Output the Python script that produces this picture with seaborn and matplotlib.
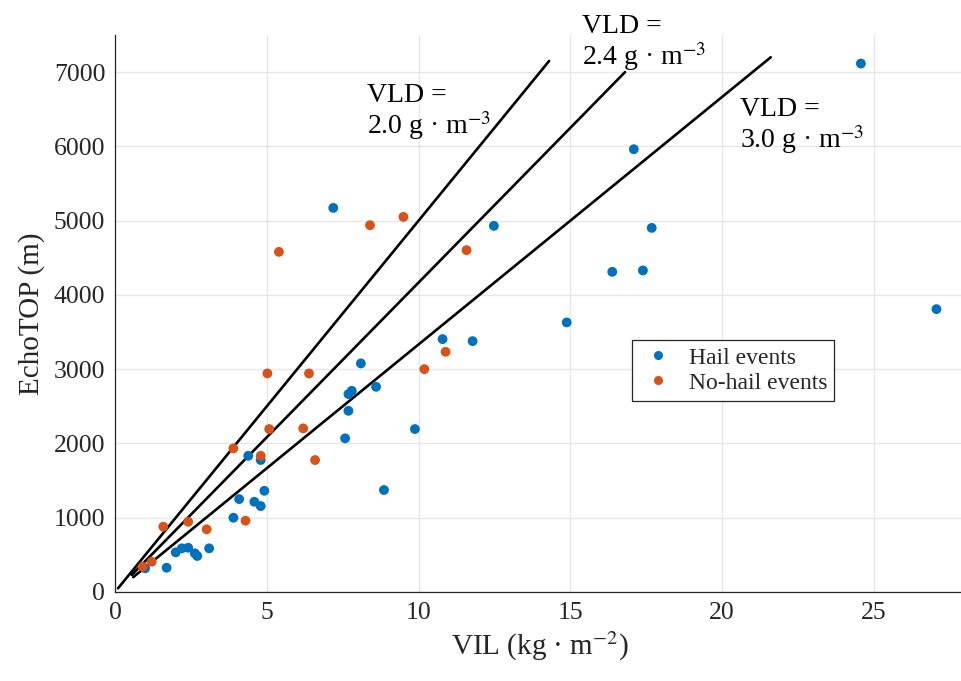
import numpy as np
import pandas as pd
import matplotlib
matplotlib.use("Agg")
import matplotlib.pyplot as plt
from matplotlib.lines import Line2D
import seaborn as sns

# Hail events: VIL (kg/m^2) and echo-top height (m)
hail_vil = [24.57, 17.09, 7.19, 12.48, 17.68, 16.38, 17.39, 27.06, 14.88,
            10.79, 11.78, 8.10, 8.60, 7.80, 7.69, 7.69, 7.58, 9.88, 8.86,
            4.39, 4.80, 4.92, 4.09, 4.59, 4.80, 3.90, 3.10, 2.00, 2.20,
            2.41, 2.63, 2.71, 1.70, 0.99]
hail_et = [7116, 5962, 5172, 4930, 4903, 4311, 4330, 3809, 3630,
           3405, 3378, 3078, 2763, 2709, 2665, 2440, 2069, 2194, 1373,
           1834, 1777, 1363, 1251, 1215, 1157, 1000, 588, 534, 588,
           596, 521, 485, 327, 319]

# No-hail events
nohail_vil = [9.50, 8.40, 5.40, 11.58, 10.89, 10.19, 5.02, 6.39, 5.08, 6.20,
              6.59, 3.90, 4.80, 1.59, 2.41, 3.02, 4.30, 1.21, 0.91]
nohail_et = [5051, 4939, 4580, 4603, 3234, 3001, 2943, 2943, 2194, 2203,
             1777, 1934, 1834, 879, 946, 844, 960, 408, 340]

# Reference VLD lines (g/m^3) and the VIL span each one covers
vld_values = [2.0, 2.4, 3.0]
vld_vil_start = [0.1, 0.55, 0.6]
vld_vil_end = [14.3, 16.8, 21.6]

x_ticks = [0, 5, 10, 15, 20, 25]
y_ticks = [0, 1000, 2000, 3000, 4000, 5000, 6000, 7000]

BLUE = "#0072BD"
ORANGE = "#D95319"
AXIS = "#262626"

sns.set_style("white")
plt.rcParams["font.family"] = ["Liberation Serif", "DejaVu Serif"]
plt.rcParams["mathtext.fontset"] = "stix"

df = pd.concat([
    pd.DataFrame({"VIL": hail_vil, "ET": hail_et, "Event": "Hail events"}),
    pd.DataFrame({"VIL": nohail_vil, "ET": nohail_et, "Event": "No-hail events"}),
], ignore_index=True)

fig = plt.figure(figsize=(9.61, 6.81), dpi=100)
ax = fig.add_axes([115 / 961, 89 / 681, 850 / 961, 557 / 681])

ax.set_axisbelow(True)
ax.grid(True, color="#e6e6e6", linewidth=1.0)

# VLD = VIL / ET  ->  ET = 1000 * VIL / VLD
for vld, v0, v1 in zip(vld_values, vld_vil_start, vld_vil_end):
    vil = np.array([v0, v1])
    line_df = pd.DataFrame({"VIL": vil, "ET": 1000.0 * vil / vld})
    sns.lineplot(data=line_df, x="VIL", y="ET", color="black", linewidth=1.9,
                 ax=ax, legend=False, zorder=2)

sns.scatterplot(data=df, x="VIL", y="ET", hue="Event",
                palette={"Hail events": BLUE, "No-hail events": ORANGE},
                s=50, edgecolor="none", ax=ax, legend=False, zorder=3)

label_kw = dict(fontsize=20, color="black", ha="left", va="top",
                linespacing=1.05, clip_on=False)
ax.text(8.3, 6860, "VLD =\n2.0 g · m$^{-3}$", **label_kw)
ax.text(15.4, 7780, "VLD =\n2.4 g · m$^{-3}$", **label_kw)
ax.text(20.6, 6670, "VLD =\n3.0 g · m$^{-3}$", **label_kw)

ax.set_xlim(0, 28)
ax.set_ylim(0, 7500)
ax.set_xticks(x_ticks)
ax.set_yticks(y_ticks)
ax.tick_params(direction="in", length=5, width=0.8, colors=AXIS,
               labelsize=18.5, labelcolor=AXIS, pad=7)
ax.set_xlabel("VIL (kg · m$^{-2}$)", fontsize=21, color=AXIS, labelpad=4)
ax.set_ylabel("EchoTOP (m)", fontsize=21, color=AXIS, labelpad=6)

for side in ["top", "right"]:
    ax.spines[side].set_visible(False)
for side in ["left", "bottom"]:
    ax.spines[side].set_color(AXIS)
    ax.spines[side].set_linewidth(0.9)

handles = [
    Line2D([], [], marker="o", linestyle="none", color=BLUE, markersize=5.5),
    Line2D([], [], marker="o", linestyle="none", color=ORANGE, markersize=5.5),
]
leg = ax.legend(handles, ["Hail events", "No-hail events"],
                loc="upper left", bbox_to_anchor=(632 / 961, 1 - 340 / 681),
                bbox_transform=fig.transFigure, borderaxespad=0,
                fontsize=17, frameon=True, fancybox=False,
                handletextpad=0.5, handlelength=1.6, borderpad=0.3,
                labelspacing=0.15)
leg.get_frame().set_edgecolor(AXIS)
leg.get_frame().set_linewidth(0.9)
leg.get_frame().set_alpha(1)

fig.savefig("out.png", dpi=100)
